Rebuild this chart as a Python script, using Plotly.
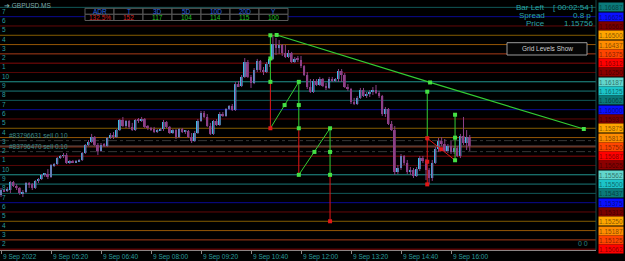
import plotly.graph_objects as go

# ---------------- data (GBPUSD M5, 9 Sep 2022, bars from 04:00) ----------------
opens = [1.15427,1.15460,1.15453,1.15460,1.15514,1.15487,1.15474,1.15440,1.15447,1.15507,
         1.15500,1.15474,1.15521,1.15534,1.15561,1.15568,1.15548,1.15628,1.15635,1.15675,
         1.15689,1.15695,1.15642,1.15655,1.15648,1.15655,1.15662,1.15709,1.15763,1.15783,
         1.15816,1.15763,1.15722,1.15763,1.15756,1.15810,1.15830,1.15816,1.15863,1.15931,
         1.15890,1.15924,1.15884,1.15863,1.15931,1.15924,1.15937,1.15884,1.15877,1.15870,
         1.15850,1.15863,1.15870,1.15917,1.15884,1.15843,1.15863,1.15816,1.15870,1.15850,
         1.15857,1.15816,1.15789,1.15843,1.15924,1.15978,1.15951,1.15890,1.15837,1.15924,
         1.15897,1.15971,1.15958,1.16005,1.16025,1.15998,1.16172,1.16159,1.16220,1.16320,
         1.16220,1.16179,1.16267,1.16327,1.16267,1.16253,1.16307,1.16341,1.16441,1.16414,
         1.16435,1.16381,1.16354,1.16381,1.16320,1.16341,1.16334,1.16293,1.16233,1.16152,
         1.16119,1.16193,1.16166,1.16206,1.16159,1.16146,1.16206,1.16199,1.16206,1.16260,
         1.16233,1.16152,1.16139,1.16052,1.16038,1.16079,1.16132,1.16092,1.16105,1.16119,
         1.16132,1.16112,1.16092,1.15971,1.16005,1.15904,1.15863,1.15581,1.15608,1.15689,
         1.15642,1.15581,1.15595,1.15554,1.15601,1.15675,1.15655,1.15595,1.15541,1.15642,
         1.15736,1.15789,1.15769,1.15722,1.15756,1.15716,1.15742,1.15689,1.15823,1.15776,
         1.15816]
highs = [1.15474,1.15467,1.15480,1.15521,1.15521,1.15500,1.15480,1.15460,1.15514,1.15514,
         1.15507,1.15527,1.15541,1.15568,1.15574,1.15601,1.15635,1.15642,1.15682,1.15695,
         1.15709,1.15709,1.15662,1.15662,1.15662,1.15669,1.15716,1.15769,1.15796,1.15837,
         1.15823,1.15776,1.15776,1.15776,1.15816,1.15843,1.15850,1.15870,1.15937,1.15951,
         1.15931,1.15931,1.15911,1.15937,1.15944,1.15951,1.15944,1.15897,1.15884,1.15884,
         1.15870,1.15877,1.15931,1.15924,1.15890,1.15870,1.15870,1.15877,1.15877,1.15863,
         1.15863,1.15843,1.15857,1.15937,1.15991,1.15991,1.15971,1.15911,1.15931,1.15937,
         1.15984,1.15984,1.16011,1.16031,1.16038,1.16186,1.16193,1.16233,1.16347,1.16334,
         1.16233,1.16280,1.16341,1.16334,1.16287,1.16320,1.16354,1.16502,1.16482,1.16468,
         1.16441,1.16435,1.16401,1.16388,1.16354,1.16361,1.16361,1.16300,1.16253,1.16206,
         1.16206,1.16206,1.16220,1.16213,1.16179,1.16220,1.16220,1.16213,1.16273,1.16273,
         1.16246,1.16172,1.16146,1.16079,1.16092,1.16146,1.16146,1.16119,1.16132,1.16152,
         1.16166,1.16126,1.16099,1.16018,1.16011,1.15924,1.15890,1.15628,1.15702,1.15695,
         1.15662,1.15615,1.15608,1.15615,1.15689,1.15689,1.15669,1.15608,1.15662,1.15749,
         1.15810,1.15816,1.15803,1.15769,1.15789,1.15756,1.15756,1.15837,1.15951,1.15863,
         1.15830]
lows = [1.15413,1.15447,1.15447,1.15440,1.15480,1.15460,1.15427,1.15413,1.15440,1.15474,
        1.15460,1.15467,1.15507,1.15527,1.15548,1.15534,1.15541,1.15615,1.15628,1.15669,
        1.15675,1.15635,1.15635,1.15642,1.15642,1.15648,1.15655,1.15702,1.15756,1.15776,
        1.15756,1.15695,1.15716,1.15749,1.15749,1.15803,1.15803,1.15810,1.15857,1.15884,
        1.15877,1.15870,1.15857,1.15857,1.15911,1.15917,1.15877,1.15863,1.15857,1.15843,
        1.15843,1.15857,1.15857,1.15877,1.15837,1.15837,1.15803,1.15810,1.15843,1.15837,
        1.15810,1.15776,1.15783,1.15837,1.15917,1.15944,1.15884,1.15830,1.15830,1.15890,
        1.15890,1.15951,1.15951,1.15998,1.15991,1.15991,1.16152,1.16152,1.16213,1.16213,
        1.16146,1.16172,1.16253,1.16253,1.16233,1.16246,1.16287,1.16334,1.16367,1.16374,
        1.16361,1.16347,1.16347,1.16314,1.16314,1.16320,1.16280,1.16226,1.16139,1.16112,
        1.16112,1.16159,1.16159,1.16152,1.16132,1.16139,1.16186,1.16186,1.16186,1.16186,
        1.16146,1.16126,1.16038,1.16031,1.16031,1.16072,1.16085,1.16079,1.16085,1.16099,
        1.16105,1.16079,1.15958,1.15951,1.15897,1.15857,1.15561,1.15568,1.15595,1.15628,
        1.15568,1.15561,1.15541,1.15548,1.15588,1.15642,1.15527,1.15500,1.15521,1.15635,
        1.15716,1.15756,1.15716,1.15709,1.15702,1.15702,1.15682,1.15675,1.15763,1.15729,
        1.15722]
closes = [1.15460,1.15453,1.15467,1.15514,1.15487,1.15474,1.15440,1.15447,1.15507,1.15500,
          1.15474,1.15521,1.15534,1.15561,1.15568,1.15548,1.15628,1.15635,1.15675,1.15689,
          1.15695,1.15642,1.15655,1.15648,1.15655,1.15662,1.15709,1.15763,1.15783,1.15816,
          1.15763,1.15722,1.15763,1.15756,1.15810,1.15830,1.15816,1.15863,1.15931,1.15890,
          1.15924,1.15884,1.15863,1.15931,1.15924,1.15937,1.15884,1.15877,1.15870,1.15850,
          1.15863,1.15870,1.15917,1.15884,1.15843,1.15863,1.15816,1.15870,1.15850,1.15857,
          1.15816,1.15789,1.15843,1.15924,1.15978,1.15951,1.15890,1.15837,1.15924,1.15897,
          1.15971,1.15958,1.16005,1.16025,1.15998,1.16172,1.16159,1.16220,1.16320,1.16220,
          1.16179,1.16267,1.16327,1.16267,1.16253,1.16307,1.16341,1.16441,1.16414,1.16435,
          1.16381,1.16354,1.16381,1.16320,1.16341,1.16334,1.16293,1.16233,1.16152,1.16119,
          1.16193,1.16166,1.16206,1.16159,1.16146,1.16206,1.16199,1.16206,1.16260,1.16233,
          1.16152,1.16139,1.16052,1.16038,1.16079,1.16132,1.16092,1.16105,1.16119,1.16132,
          1.16112,1.16092,1.15971,1.16005,1.15904,1.15863,1.15581,1.15608,1.15689,1.15642,
          1.15581,1.15595,1.15554,1.15601,1.15675,1.15655,1.15595,1.15541,1.15642,1.15736,
          1.15789,1.15769,1.15722,1.15756,1.15716,1.15742,1.15689,1.15823,1.15776,1.15816,
          1.15756]

time_tick_bars = [0, 16, 32, 48, 64, 80, 96, 112, 128, 144]
time_tick_labels = ["9 Sep 2022", "9 Sep 05:20", "9 Sep 06:40", "9 Sep 08:00", "9 Sep 09:20",
                    "9 Sep 10:40", "9 Sep 12:00", "9 Sep 13:20", "9 Sep 14:40", "9 Sep 16:00"]

level_prices = [1.166875, 1.16625, 1.165625, 1.165, 1.164375, 1.16375, 1.163125, 1.1625,
                1.161875, 1.16125, 1.160625, 1.16, 1.159375, 1.15875, 1.158125, 1.1575,
                1.156875, 1.15625, 1.155625, 1.155, 1.154375, 1.15375, 1.153125, 1.1525,
                1.151875, 1.15125, 1.150625]
level_labels = ["1.16687", "1.16625", "1.16562", "1.16500", "1.16437", "1.16375", "1.16312", "1.16250",
                "1.16187", "1.16125", "1.16062", "1.16000", "1.15937", "1.15875", "1.15812", "1.15750",
                "1.15687", "1.15625", "1.15562", "1.15500", "1.15437", "1.15375", "1.15312", "1.15250",
                "1.15187", "1.15125", "1.15062"]
level_digits = [8, 7, 6, 5, 4, 3, 2, 1, 10, 9, 8, 7, 6, 5, 4, 3, 2, 1, 10, 9, 8, 7, 6, 5, 4, 3, 2]

# measured-move drawings (bar index, price)
leg_x = [86.2, 95.3, 105.3]
leg_top = [1.16500, 1.16187, 1.15875]
leg_mid = [1.16344, 1.16031, 1.15716]
leg_split = [1.16187, 1.15875, 1.15562]
leg_bottom = [1.15875, 1.15562, 1.15250]
leg_bottom_colors = ["red", "green", "red"]
diag_mid_x = [90.75, 100.3]
diag_mid_y = [1.16031, 1.15716]

b1_x = 136.4
b1_top, b1_split, b1_mid, b1_bottom = 1.16121, 1.15808, 1.15650, 1.15498
b2_x = 145.3
b2_top, b2_mid, b2_bottom = 1.15966, 1.15812, 1.15660
rdiag_mid = (140.85, 1.15734)

trend_x = [88.2, 137.3, 186.5]
trend_y = [1.16502, 1.16183, 1.15870]

order_prices = [1.15792, 1.15718]
order_labels = ["#83796631 sell 0.10", "#83796470 sell 0.10"]
bid_price = 1.15756

table_heads = ["ADR", "T", "3D", "5D", "10D", "20D", "Y"]
table_vals = ["132.5%", "152", "117", "104", "114", "115", "100"]
table_val_colors = ["#d82020", "#d82020", "#22c322", "#22c322", "#22c322", "#22c322", "#22c322"]

# ---------------- styles ----------------
FONT = "Liberation Sans, Arial, sans-serif"
WICK = "#8a3f85"
BULL = "#3dbde8"
BEAR = "#8f4189"
GREEN = "#33cc33"
RED = "#e01818"
TEAL_TXT = "#2a9e9e"
line_col = {10: "#219590", 9: "#1a7a7a", 8: "#105858", 7: "#0a0a92", 6: "#620808",
            5: "#845c00", 4: "#955606", 3: "#a83c18", 2: "#840a0a", 1: "#560707"}
box_col = {10: "#62d6cc", 9: "#1cc4c8", 8: "#0b7a7a", 7: "#0a10ff", 6: "#7a0000",
           5: "#ffa500", 4: "#ff8c00", 3: "#ff4500", 2: "#ff0000", 1: "#8b0000"}

W, H = 625, 261
PLOT_W, PLOT_H = 596, 250
Y_LO, Y_HI = 1.15057, 1.16737
X_LO, X_HI = -0.32, 190.4


def pxx(x):
    return x / PLOT_W


def pxy(y):
    return 1 - y / PLOT_H


fig = go.Figure()

# wicks
wx, wy = [], []
for i, (h, l) in enumerate(zip(highs, lows)):
    wx += [i, i, None]
    wy += [l, h, None]
fig.add_trace(go.Scatter(x=wx, y=wy, mode="lines", line=dict(color=WICK, width=1),
                         hoverinfo="skip"))
# bodies
bars = list(range(len(closes)))
base = [min(o, c) for o, c in zip(opens, closes)]
hgt = [max(abs(c - o), 0.00002) for o, c in zip(opens, closes)]
cols = [BULL if c > o else BEAR for o, c in zip(opens, closes)]
fig.add_trace(go.Bar(x=bars, y=hgt, base=base, width=0.62,
                     marker=dict(color=cols, line=dict(width=0)), hoverinfo="skip"))

# measured move legs (left)
gx, gy, rx, ry = [], [], [], []
for k in range(3):
    gx += [leg_x[k], leg_x[k], None]
    gy += [leg_top[k], leg_split[k], None]
    rx += [leg_x[k], leg_x[k], None]
    ry += [leg_split[k], leg_bottom[k], None]
for k in range(2):
    gx += [leg_x[k], leg_x[k + 1], None]
    gy += [leg_bottom[k], leg_top[k + 1], None]
# right cluster
gx += [b1_x, b1_x, None, b2_x, b2_x, None]
gy += [b1_top, b1_split, None, b2_top, b2_bottom, None]
rx += [b1_x, b1_x, None, b1_x, b2_x, None]
ry += [b1_split, b1_bottom, None, b1_split, b2_bottom, None]

fig.add_trace(go.Scatter(x=rx, y=ry, mode="lines", line=dict(color=RED, width=1), hoverinfo="skip"))
fig.add_trace(go.Scatter(x=gx, y=gy, mode="lines", line=dict(color=GREEN, width=1), hoverinfo="skip"))
fig.add_trace(go.Scatter(x=trend_x, y=trend_y, mode="lines", line=dict(color=GREEN, width=1.2),
                         hoverinfo="skip"))

# markers
red_mx = [leg_x[k] for k in range(3) if leg_bottom_colors[k] == "red"] + [b1_x, b1_x, b1_x, rdiag_mid[0]]
red_my = [leg_bottom[k] for k in range(3) if leg_bottom_colors[k] == "red"] + [b1_split, b1_mid, b1_bottom, rdiag_mid[1]]
grn_mx = leg_x + leg_x + leg_x + diag_mid_x + [b1_x, b2_x, b2_x, b2_x] + trend_x
grn_my = leg_top + leg_mid + leg_split + diag_mid_y + [b1_top, b2_top, b2_mid, b2_bottom] + trend_y
grn_mx += [leg_x[k] for k in range(3) if leg_bottom_colors[k] == "green"]
grn_my += [leg_bottom[k] for k in range(3) if leg_bottom_colors[k] == "green"]
fig.add_trace(go.Scatter(x=red_mx, y=red_my, mode="markers",
                         marker=dict(symbol="square", size=4, color=RED, line=dict(width=0)),
                         hoverinfo="skip"))
fig.add_trace(go.Scatter(x=grn_mx, y=grn_my, mode="markers",
                         marker=dict(symbol="square", size=4, color="#44e044", line=dict(width=0)),
                         hoverinfo="skip"))

shapes = []
annotations = []

# grid levels
for p, lab, d in zip(level_prices, level_labels, level_digits):
    shapes.append(dict(type="line", xref="paper", x0=0, x1=1, yref="y", y0=p, y1=p,
                       line=dict(color=line_col[d], width=1), layer="below"))
    annotations.append(dict(xref="paper", x=1, xanchor="left", xshift=2, yref="y", y=p,
                            yanchor="middle", text=lab, showarrow=False, bgcolor=box_col[d],
                            width=24, height=8, borderpad=0,
                            font=dict(family=FONT, size=6.5, color="rgba(0,0,0,0.5)")))
for p, d in list(zip(level_prices, level_digits))[1:]:
    annotations.append(dict(xref="paper", x=0, xanchor="left", xshift=0, yref="y", y=p,
                            yanchor="bottom", text=str(d), showarrow=False,
                            font=dict(family=FONT, size=6.5, color=TEAL_TXT)))

# bid line and order lines
shapes.append(dict(type="line", xref="paper", x0=0, x1=1, yref="y", y0=bid_price, y1=bid_price,
                   line=dict(color="#5e4a4a", width=1), layer="below"))
for p, lab in zip(order_prices, order_labels):
    shapes.append(dict(type="line", xref="paper", x0=0, x1=1, yref="y", y0=p, y1=p,
                       line=dict(color="#363636", width=1, dash="dashdot"), layer="below"))
    annotations.append(dict(xref="paper", x=0, xanchor="left", xshift=7, yref="y", y=p,
                            yanchor="bottom", yshift=0, text=lab, showarrow=False,
                            font=dict(family=FONT, size=6.5, color="#3a8c8c")))

# right border
shapes.append(dict(type="line", xref="paper", x0=1, x1=1, yref="paper", y0=0, y1=1,
                   line=dict(color="#174848", width=1)))

# time labels
for b, lab in zip(time_tick_bars, time_tick_labels):
    annotations.append(dict(xref="x", x=b, xanchor="left", xshift=0, yref="paper", y=0,
                            yanchor="top", yshift=-1, text=lab, showarrow=False,
                            font=dict(family=FONT, size=6.5, color=TEAL_TXT)))

# header
annotations.append(dict(xref="paper", x=pxx(2), xanchor="left", yref="paper", y=pxy(5),
                        yanchor="middle", text="➔ GBPUSD.MS", showarrow=False,
                        font=dict(family=FONT, size=6.5, color="#7fa8a8")))

# table
edges = [85, 114, 143, 172, 201, 230, 259, 288]
for r0, r1 in [(8.3, 14.3), (14.3, 20.5)]:
    for c in range(7):
        shapes.append(dict(type="rect", xref="paper", yref="paper",
                           x0=pxx(edges[c]), x1=pxx(edges[c + 1]), y0=pxy(r1), y1=pxy(r0),
                           fillcolor="black", line=dict(color="#5a5a5a", width=1)))
for c in range(7):
    cx = pxx((edges[c] + edges[c + 1]) / 2)
    annotations.append(dict(xref="paper", x=cx, xanchor="center", yref="paper", y=pxy(11.3),
                            yanchor="middle", text=table_heads[c], showarrow=False,
                            font=dict(family=FONT, size=6.5, color="#2e6ae0")))
    annotations.append(dict(xref="paper", x=cx, xanchor="center", yref="paper", y=pxy(17.5),
                            yanchor="middle", text=table_vals[c], showarrow=False,
                            font=dict(family=FONT, size=6.5, color=table_val_colors[c])))

# info panel
info = [("Bar Left", "[ 00:02:54 ]", 7.3, 595), ("Spread", "0.8 p", 15.7, 593), ("Price", "1.15756", 23.3, 595)]
for lab, val, yy, xr in info:
    annotations.append(dict(xref="paper", x=pxx(547), xanchor="right", yref="paper", y=pxy(yy),
                            yanchor="middle", text=lab, showarrow=False,
                            font=dict(family=FONT, size=8, color="#2aa5a5")))
    annotations.append(dict(xref="paper", x=pxx(xr), xanchor="right", yref="paper", y=pxy(yy),
                            yanchor="middle", text=val, showarrow=False,
                            font=dict(family=FONT, size=8, color="#2aa5a5")))

# button
shapes.append(dict(type="rect", xref="paper", yref="paper", x0=pxx(507), x1=pxx(587),
                   y0=pxy(55), y1=pxy(42.7), fillcolor="#050505",
                   line=dict(color="#9a9a9a", width=1)))
annotations.append(dict(xref="paper", x=pxx(547), xanchor="center", yref="paper", y=pxy(49),
                        yanchor="middle", text="Grid Levels Show", showarrow=False,
                        font=dict(family=FONT, size=6.5, color="#d0d0d0")))

annotations.append(dict(xref="paper", x=pxx(583), xanchor="center", yref="paper", y=pxy(243),
                        yanchor="middle", text="0 0", showarrow=False,
                        font=dict(family=FONT, size=7, color="#2a8080")))

fig.update_layout(
    width=W, height=H,
    margin=dict(l=0, r=W - PLOT_W, t=0, b=H - PLOT_H),
    paper_bgcolor="black", plot_bgcolor="black",
    showlegend=False, hovermode=False,
    shapes=shapes, annotations=annotations,
    xaxis=dict(range=[X_LO, X_HI], showgrid=False, zeroline=False, showticklabels=False,
               tickvals=time_tick_bars, ticks="outside", ticklen=3, tickcolor="#8c8484",
               showline=True, linecolor="#8c8484", linewidth=1, fixedrange=True),
    yaxis=dict(range=[Y_LO, Y_HI], showgrid=False, zeroline=False, showticklabels=False,
               fixedrange=True),
)

fig.write_html("out.html")
